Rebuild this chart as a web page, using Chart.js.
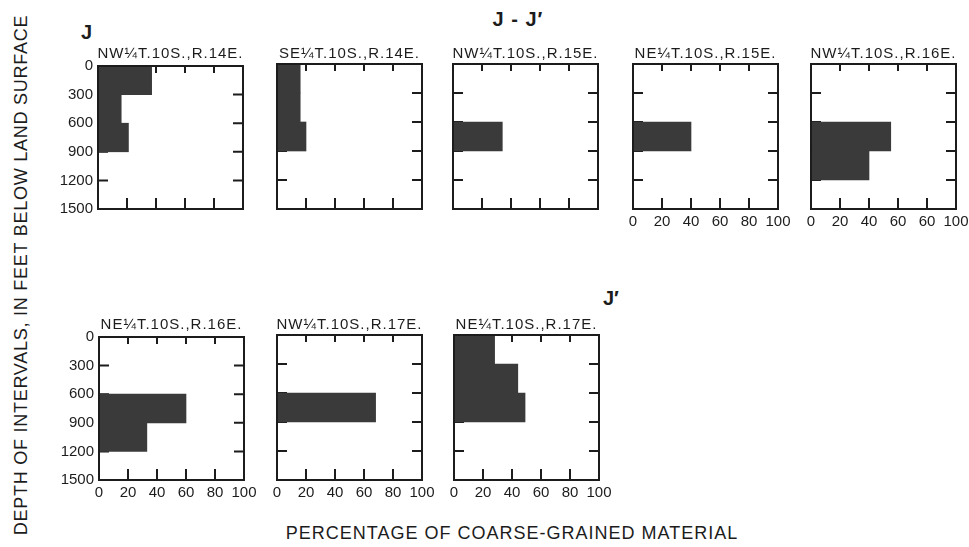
<!DOCTYPE html>
<html>
<head>
<meta charset="utf-8">
<script src="https://cdn.jsdelivr.net/npm/chart.js@4.4.1/dist/chart.umd.min.js"></script>
<style>
  html, body { margin: 0; padding: 0; background: #fff; }
  body { width: 969px; height: 547px; position: relative; overflow: hidden;
         font-family: "Liberation Sans", Arial, sans-serif; color: #1c1c1c; }
  .panel { position: absolute; }
  .panel canvas { display: block; }
  .site { position: absolute; white-space: nowrap; font-size: 15px; letter-spacing: 1px;
          transform: translateX(-50%); line-height: 1; }
  .big { position: absolute; font-size: 20px; font-weight: bold; line-height: 1; white-space: nowrap; }
  .axis-title { position: absolute; font-size: 18px; line-height: 1; white-space: nowrap; }
</style>
</head>
<body>
<div class="big" style="left:81px; top:22px;">J</div>
<div class="big" style="left:518px; top:9px; letter-spacing:1px; transform:translateX(-50%);">J - J′</div>
<div class="big" style="left:603px; top:288px;">J′</div>
<div class="axis-title" style="left:21px; top:275px; letter-spacing:0.75px; transform:translate(-50%,-50%) rotate(-90deg);">DEPTH OF INTERVALS, IN FEET BELOW LAND SURFACE</div>
<div class="axis-title" style="left:512px; top:524px; letter-spacing:1px; transform:translateX(-50%);">PERCENTAGE OF COARSE-GRAINED MATERIAL</div>

<script>
// Depth intervals, in feet below land surface
const intervals = ['0-300', '300-600', '600-900', '900-1200', '1200-1500'];

// Well locations
const sites = [
  'NW¼T.10S.,R.14E.', 'SE¼T.10S.,R.14E.', 'NW¼T.10S.,R.15E.', 'NE¼T.10S.,R.15E.',
  'NW¼T.10S.,R.16E.', 'NE¼T.10S.,R.16E.', 'NW¼T.10S.,R.17E.', 'NE¼T.10S.,R.17E.'
];

// Percentage of coarse-grained material per interval (top to bottom)
const nwR14E = [37, 16, 21, 0, 0];
const seR14E = [16, 16, 20, 0, 0];
const nwR15E = [0, 0, 34, 0, 0];
const neR15E = [0, 0, 40, 0, 0];
const nwR16E = [0, 0, 55, 40, 0];
const neR16E = [0, 0, 60, 33, 0];
const nwR17E = [0, 0, 68, 0, 0];
const neR17E = [28, 44, 49, 0, 0];

// Tick labels
const depthTicks   = ['0', '300', '600', '900', '1200', '1500'];
const percentTicks = ['0', '20', '40', '60', '80', '100'];
const percentTicksR16E = ['0', '20', '40', '60', '60', '100'];

const INK = '#1c1c1c';
const BAR = '#3a3a3a';
const FONT = '"Liberation Sans", Arial, sans-serif';

// Plot-area placement of each panel on the page
const panels = [
  { site: sites[0], values: nwR14E, left: 98,  top: 64,  showY: true,  showX: false, xLabels: percentTicks },
  { site: sites[1], values: seR14E, left: 277, top: 64,  showY: false, showX: false, xLabels: percentTicks },
  { site: sites[2], values: nwR15E, left: 453, top: 64,  showY: false, showX: false, xLabels: percentTicks },
  { site: sites[3], values: neR15E, left: 633, top: 64,  showY: false, showX: true,  xLabels: percentTicks },
  { site: sites[4], values: nwR16E, left: 811, top: 64,  showY: false, showX: true,  xLabels: percentTicksR16E },
  { site: sites[5], values: neR16E, left: 99,  top: 335, showY: true,  showX: true,  xLabels: percentTicks },
  { site: sites[6], values: nwR17E, left: 277, top: 335, showY: false, showX: true,  xLabels: percentTicks },
  { site: sites[7], values: neR17E, left: 454, top: 335, showY: false, showX: true,  xLabels: percentTicks }
];

const PW = 145, PH = 145;          // plot area size
const PAD_L = 52, PAD_T = 12, PAD_R = 18, PAD_B = 26;

// Inward tick marks on all four sides plus a closed frame
const frameTicks = {
  id: 'frameTicks',
  beforeDatasetsDraw(chart) {
    const { ctx, chartArea: a, scales: { x, depth } } = chart;
    ctx.save();
    ctx.strokeStyle = INK;
    ctx.lineWidth = 2;
    ctx.beginPath();
    x.ticks.forEach(t => {
      if (t.value <= x.min || t.value >= x.max) return;
      const px = x.getPixelForValue(t.value);
      ctx.moveTo(px, a.top); ctx.lineTo(px, a.top + 7);
      ctx.moveTo(px, a.bottom); ctx.lineTo(px, a.bottom - 11);
    });
    depth.ticks.forEach(t => {
      if (t.value <= depth.min || t.value >= depth.max) return;
      const py = depth.getPixelForValue(t.value);
      ctx.moveTo(a.left, py); ctx.lineTo(a.left + 10, py);
      ctx.moveTo(a.right, py); ctx.lineTo(a.right - 10, py);
    });
    ctx.stroke();
    ctx.restore();
  },
  afterDatasetsDraw(chart) {
    const { ctx, chartArea: a } = chart;
    ctx.save();
    ctx.strokeStyle = INK;
    ctx.lineWidth = 2;
    ctx.strokeRect(a.left, a.top, a.width, a.height);
    ctx.restore();
  }
};

panels.forEach(p => {
  const wrap = document.createElement('div');
  wrap.className = 'panel';
  const w = PAD_L + PW + PAD_R, h = PAD_T + PH + PAD_B;
  wrap.style.left = (p.left - PAD_L) + 'px';
  wrap.style.top = (p.top - PAD_T) + 'px';
  wrap.style.width = w + 'px';
  wrap.style.height = h + 'px';
  const canvas = document.createElement('canvas');
  canvas.width = w; canvas.height = h;
  wrap.appendChild(canvas);
  document.body.appendChild(wrap);

  const title = document.createElement('div');
  title.className = 'site';
  title.textContent = p.site;
  title.style.left = (p.left + PW / 2) + 'px';
  title.style.top = (p.top - 19) + 'px';
  document.body.appendChild(title);

  new Chart(canvas, {
    type: 'bar',
    data: {
      labels: intervals,
      datasets: [{
        data: p.values,
        backgroundColor: BAR,
        borderWidth: 0,
        barPercentage: 1,
        categoryPercentage: 1,
        xAxisID: 'x',
        yAxisID: 'y'
      }]
    },
    options: {
      indexAxis: 'y',
      responsive: false,
      animation: false,
      devicePixelRatio: 1,
      layout: { padding: { top: PAD_T, right: PAD_R, left: 0, bottom: 0 } },
      plugins: { legend: { display: false }, tooltip: { enabled: false } },
      scales: {
        // one band per depth interval; carries the bars
        y: {
          type: 'category',
          display: false,
          offset: true
        },
        // depth scale in feet; carries the tick labels
        depth: {
          type: 'linear',
          axis: 'y',
          position: 'left',
          reverse: true,
          offset: false,
          min: 0, max: 1500,
          grid: { display: false, drawTicks: false, offset: false },
          border: { display: false },
          ticks: {
            display: p.showY,
            stepSize: 300,
            padding: 5,
            color: INK,
            font: { family: FONT, size: 15 },
            callback: v => depthTicks.find(s => Number(s) === v)
          },
          afterFit: s => { s.width = PAD_L; }
        },
        x: {
          type: 'linear',
          position: 'bottom',
          offset: false,
          min: 0, max: 100,
          grid: { display: false, drawTicks: false },
          border: { display: false },
          ticks: {
            display: p.showX,
            stepSize: 20,
            padding: 4,
            color: INK,
            maxRotation: 0,
            font: { family: FONT, size: 15 },
            callback: (v, i) => p.xLabels[i]
          },
          afterFit: s => { s.height = PAD_B; }
        }
      }
    },
    plugins: [frameTicks]
  });
});
</script>
</body>
</html>
